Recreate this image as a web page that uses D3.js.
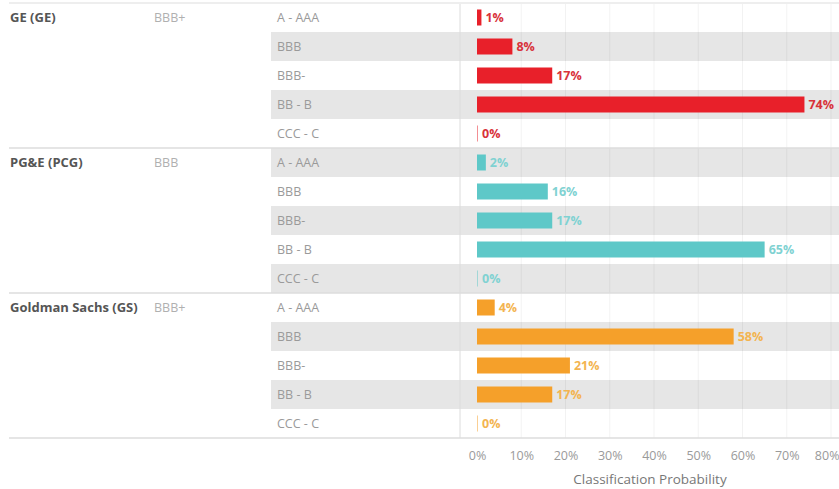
<!DOCTYPE html>
<html>
<head>
<meta charset="utf-8">
<script src="https://cdn.jsdelivr.net/npm/d3@7"></script>
<style>
  body { margin: 0; background: #fff; }
  svg { display: block; font-family: "Open Sans", "Noto Sans", sans-serif; }
</style>
</head>
<body>
<svg id="chart" width="839" height="489"></svg>
<script>
// data
const companies = ["GE (GE)", "PG&E (PCG)", "Goldman Sachs (GS)"];
const ratings = ["BBB+", "BBB", "BBB+"];
const categories = ["A - AAA", "BBB", "BBB-", "BB - B", "CCC - C"];
const geValues = [1, 8, 17, 74, 0];
const pcgValues = [2, 16, 17, 65, 0];
const gsValues = [4, 58, 21, 17, 0];
const xTicks = [0, 10, 20, 30, 40, 50, 60, 70, 80];

const barColors = ["#e8202a", "#5ec8c8", "#f5a02a"];
const labelColors = ["#d8323a", "#80d2d2", "#f3b450"];

const allValues = [geValues, pcgValues, gsValues];

// flatten to rows
const rows = [];
companies.forEach((c, ci) => {
    categories.forEach((cat, k) => {
        rows.push({ company: ci, cat: cat, k: k, v: allValues[ci][k] });
    });
});

const svg = d3.select("#chart");
const topY = 3, rowH = 29;
const chartLeft = 460;

const y = d3.scaleBand()
            .domain(d3.range(rows.length))
            .range([topY, topY + rowH * rows.length])
            .paddingInner(0);

const x = d3.scaleLinear()
            .domain([0, 80])
            .range([477, 831]);

// row shading
svg.selectAll(".shade")
   .data(rows.filter((d, i) => i % 2 === 1))
   .enter().append("rect")
   .attr("x", 271)
   .attr("y", d => y(rows.indexOf(d)))
   .attr("width", 839 - 271)
   .attr("height", y.bandwidth())
   .attr("fill", "#e6e6e6");

// gridlines
svg.selectAll(".grid")
   .data(xTicks.slice(1))
   .enter().append("line")
   .attr("x1", d => x(d)).attr("x2", d => x(d))
   .attr("y1", topY).attr("y2", topY + rowH * rows.length)
   .attr("stroke", "#000")
   .attr("stroke-opacity", 0.05);

// vertical divider
svg.append("line")
   .attr("x1", chartLeft).attr("x2", chartLeft)
   .attr("y1", topY).attr("y2", topY + rowH * rows.length)
   .attr("stroke", "#dcdcdc");

// horizontal group separators
[0, 5, 10, 15].forEach(i => {
    svg.append("line")
       .attr("x1", 9).attr("x2", 839)
       .attr("y1", topY + rowH * i).attr("y2", topY + rowH * i)
       .attr("stroke", i === 0 ? "#eeeeee" : "#dcdcdc")
       .attr("stroke-width", i === 0 ? 2 : 1.5);
});

// company names and ratings
companies.forEach((c, ci) => {
    const cy = y(ci * 5) + y.bandwidth() / 2;
    svg.append("text")
       .attr("x", 10).attr("y", cy).attr("dy", "0.35em")
       .attr("font-size", 13).attr("font-weight", "bold")
       .attr("fill", "#555")
       .text(c);
    svg.append("text")
       .attr("x", 154).attr("y", cy).attr("dy", "0.35em")
       .attr("font-size", 12.5).attr("fill", "#b0b0b0")
       .text(ratings[ci]);
});

// category labels
svg.selectAll(".cat")
   .data(rows)
   .enter().append("text")
   .attr("x", 277)
   .attr("y", (d, i) => y(i) + y.bandwidth() / 2)
   .attr("dy", "0.35em")
   .attr("font-size", 12.5)
   .attr("fill", "#9a9a9a")
   .text(d => d.cat);

// bars
const barH = 16;
svg.selectAll(".bar")
   .data(rows)
   .enter().append("rect")
   .attr("class", "bar")
   .attr("x", x(0))
   .attr("y", (d, i) => y(i) + (y.bandwidth() - barH) / 2)
   .attr("width", d => Math.max(x(d.v) - x(0), 1))
   .attr("height", barH)
   .attr("fill", d => barColors[d.company])
   .attr("fill-opacity", d => d.v === 0 ? 0.5 : 1);

// value labels
svg.selectAll(".val")
   .data(rows)
   .enter().append("text")
   .attr("x", d => Math.max(x(d.v), x(0) + 1) + 4)
   .attr("y", (d, i) => y(i) + y.bandwidth() / 2)
   .attr("dy", "0.35em")
   .attr("font-size", 12.5)
   .attr("font-weight", "bold")
   .attr("fill", d => labelColors[d.company])
   .text(d => d.v + "%");

// x axis
const axisY = topY + rowH * rows.length;
const xAxis = svg.append("g")
   .attr("transform", `translate(0,${axisY})`)
   .call(d3.axisBottom(x).tickValues(xTicks).tickFormat(d => d + "%").tickSize(0).tickPadding(13));
xAxis.select(".domain").remove();
xAxis.selectAll("text")
     .attr("font-family", "\"Open Sans\", \"Noto Sans\", sans-serif")
     .attr("font-size", 12.5)
     .attr("fill", "#9a9a9a")
     .attr("text-anchor", d => d === 80 ? "end" : "middle")
     .attr("dx", d => d === 80 ? "8" : "0");

// axis title
svg.append("text")
   .attr("x", 650).attr("y", 484)
   .attr("text-anchor", "middle")
   .attr("font-size", 13.5)
   .attr("fill", "#777")
   .text("Classification Probability");
</script>
</body>
</html>
